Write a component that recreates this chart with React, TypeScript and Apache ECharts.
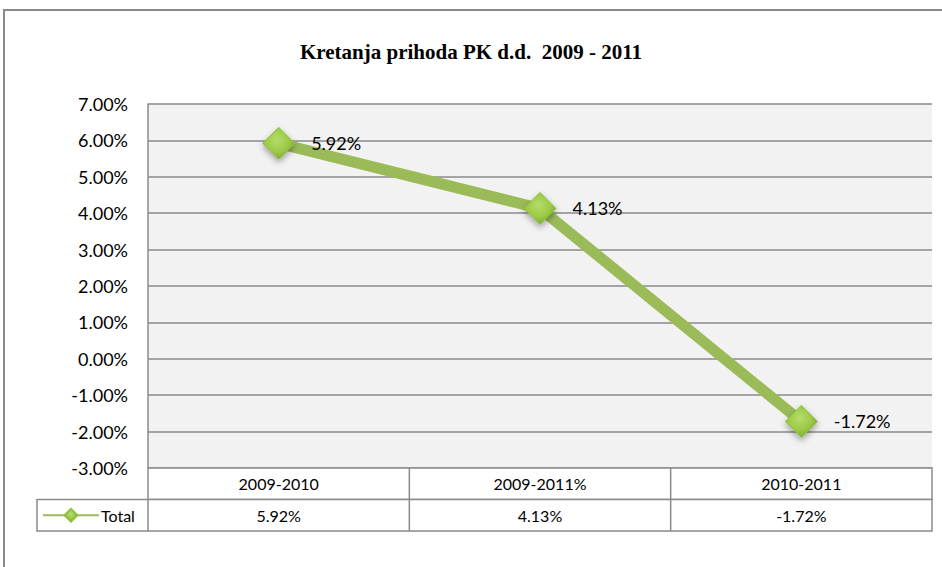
import React, { useEffect, useRef } from "react";
import * as echarts from "echarts";

const titleText = "Kretanja prihoda PK d.d.  2009 - 2011";
const categories = ["2009-2010", "2009-2011%", "2010-2011"];
const seriesName = "Total";
const totalValues = [5.92, 4.13, -1.72];
const yMin = -3;
const yMax = 7;
const yInterval = 1;

const fmt = (v: number) => v.toFixed(2) + "%";

const GRID_L = 148;
const GRID_T = 104;
const GRID_W = 784;
const GRID_H = 364;
const ROW_H = 31.5;
const LEGEND_L = 37;
const BORDER = "#8a8a8a";
const GREEN = "#9BBB59";
const FONT = "Lato";

export default function App() {
  const ref = useRef<HTMLDivElement>(null);
  useEffect(() => {
    if (!ref.current) return;
    const chart = echarts.init(ref.current, undefined, { renderer: "svg" });
    const colW = GRID_W / categories.length;
    const headerTop = GRID_T + GRID_H;
    const dataTop = headerTop + ROW_H;
    const graphics: any[] = [];
    graphics.push({
      type: "polyline",
      shape: { points: [[4, 567], [4, 10], [942, 10]] },
      style: { stroke: BORDER, lineWidth: 2, fill: null },
    });
    graphics.push({
      type: "rect",
      shape: { x: GRID_L, y: headerTop, width: GRID_W, height: ROW_H },
      style: { fill: "#ffffff", stroke: BORDER, lineWidth: 1.5 },
      z: 1,
    });
    graphics.push({
      type: "rect",
      shape: { x: LEGEND_L, y: dataTop, width: GRID_L + GRID_W - LEGEND_L, height: ROW_H },
      style: { fill: "#ffffff", stroke: BORDER, lineWidth: 1.5 },
      z: 1,
    });
    graphics.push({
      type: "line",
      shape: { x1: GRID_L, y1: dataTop, x2: GRID_L, y2: dataTop + ROW_H },
      style: { stroke: BORDER, lineWidth: 1.5 },
      z: 2,
    });
    for (let i = 1; i < categories.length; i++) {
      const x = GRID_L + colW * i;
      graphics.push({
        type: "line",
        shape: { x1: x, y1: headerTop, x2: x, y2: dataTop + ROW_H },
        style: { stroke: BORDER, lineWidth: 1.5 },
        z: 2,
      });
    }
    categories.forEach((c, i) => {
      const cx = GRID_L + colW * (i + 0.5);
      graphics.push({
        type: "text",
        x: cx,
        y: headerTop + ROW_H / 2,
        style: { text: c, fill: "#000", font: `16px ${FONT}`, align: "center", verticalAlign: "middle" },
        z: 3,
      });
      graphics.push({
        type: "text",
        x: cx,
        y: dataTop + ROW_H / 2,
        style: { text: fmt(totalValues[i]), fill: "#000", font: `16px ${FONT}`, align: "center", verticalAlign: "middle" },
        z: 3,
      });
    });

    chart.setOption({
      animation: false,
      title: {
        text: titleText,
        left: "center",
        top: 36,
        textStyle: { fontFamily: "Liberation Serif", fontWeight: "bold", fontSize: 21, color: "#000" },
      },
      legend: {
        left: 42,
        top: dataTop + ROW_H / 2 - 8,
        itemWidth: 56,
        itemHeight: 16,
        itemGap: 4,
        padding: 0,
        textStyle: { fontFamily: FONT, fontSize: 16, color: "#000", padding: [0, 0, 0, -3] },
        data: [seriesName],
        z: 10,
      },
      grid: { left: GRID_L, top: GRID_T, width: GRID_W, height: GRID_H, show: true, backgroundColor: "#F2F2F2", borderWidth: 0 },
      xAxis: {
        type: "category",
        data: categories,
        boundaryGap: true,
        axisLabel: { show: false },
        axisTick: { show: false },
        axisLine: { show: false },
      },
      yAxis: {
        type: "value",
        min: yMin,
        max: yMax,
        interval: yInterval,
        axisLabel: { formatter: (v: number) => fmt(v), fontFamily: FONT, fontSize: 18, color: "#000", margin: 20 },
        axisLine: { show: true, lineStyle: { color: BORDER, width: 1.5 } },
        axisTick: { show: false },
        splitLine: { lineStyle: { color: BORDER, width: 1.5 } },
      },
      graphic: graphics,
      series: [
        {
          name: seriesName,
          type: "line",
          data: totalValues,
          symbol: "diamond",
          symbolSize: 32,
          lineStyle: { color: GREEN, width: 11 },
          itemStyle: {
            color: new echarts.graphic.RadialGradient(0.45, 0.4, 0.6, [
              { offset: 0, color: "#B4DC6A" },
              { offset: 0.6, color: "#9CCB45" },
              { offset: 1, color: "#7FA83A" },
            ]),
            borderColor: "#8FBF3F",
            borderWidth: 1,
            shadowColor: "rgba(0,0,0,0.35)",
            shadowBlur: 6,
            shadowOffsetY: 3,
          },
          label: {
            show: true,
            position: "right",
            distance: 16,
            formatter: (p: any) => fmt(p.value),
            fontFamily: FONT,
            fontSize: 18,
            color: "#000",
          },
          z: 5,
        },
      ],
    });
    return () => chart.dispose();
  }, []);
  return (
    <div
      ref={ref}
      style={{ position: "fixed", left: 0, top: 0, width: 942, height: 567, background: "#ffffff" }}
    />
  );
}
